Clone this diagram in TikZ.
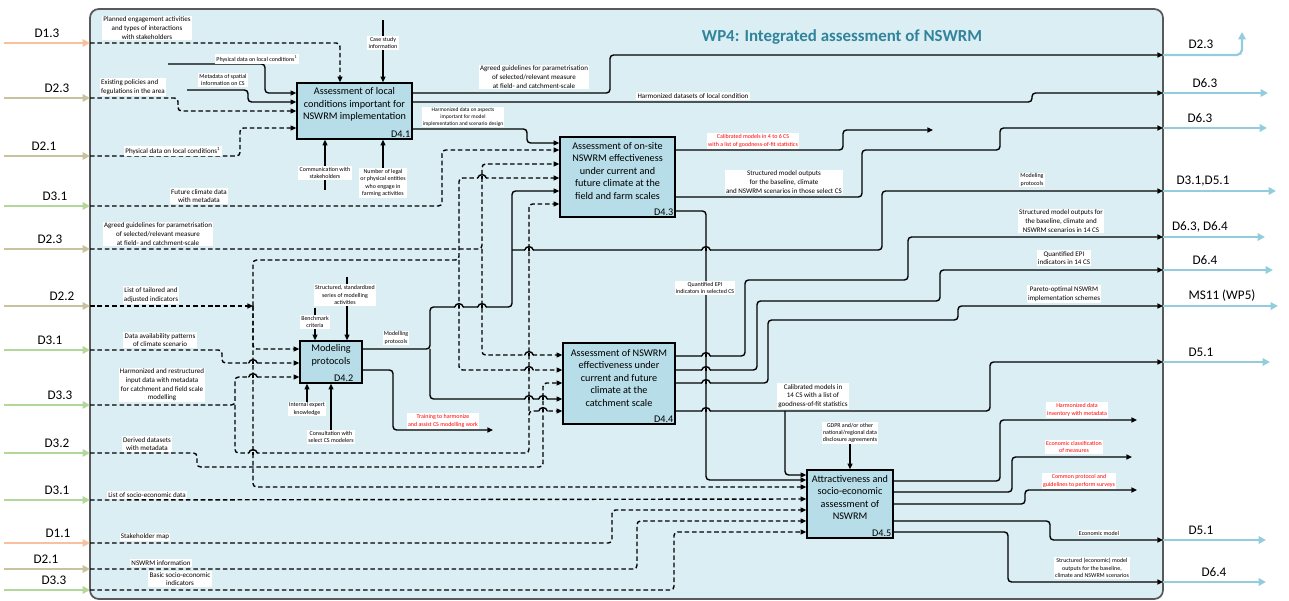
\documentclass[tikz,border=0pt]{standalone}
\usepackage{fontspec}
\setmainfont{Carlito}
\usepackage{tikz}
\usetikzlibrary{arrows.meta,positioning,calc}

\definecolor{panel}{HTML}{DAEEF3}
\definecolor{boxblue}{HTML}{B7DDE8}
\definecolor{framegray}{HTML}{595959}
\definecolor{outblue}{HTML}{93CDDD}
\definecolor{inorange}{HTML}{F8C19D}
\definecolor{intan}{HTML}{C9C29E}
\definecolor{ingreen}{HTML}{B3D79A}
\definecolor{titleblue}{HTML}{31849B}

\newcommand{\wphop}[2]{%
  \fill[panel] (#1-4.2,#2-1.4) rectangle (#1+4.2,#2+1.4);
  \draw[line width=0.8pt] (#1,#2-1.5) -- (#1,#2+1.5);
  \draw[line width=0.8pt,line cap=round] (#1-4.2,#2) .. controls (#1-3.6,#2-4.4) and (#1+3.6,#2-4.4) .. (#1+4.2,#2);}

\begin{document}
\begin{tikzpicture}[x=0.02cm,y=-0.02cm,
  wpbox/.style={draw=black,line width=0.9pt,fill=boxblue,inner sep=0pt},
  boxtxt/.style={align=center,inner sep=0pt,font=\fontsize{5.8}{7.1}\selectfont},
  dtag/.style={inner sep=1.2pt,font=\fontsize{5.8}{7}\selectfont},
  note/.style={fill=white,align=center,inner sep=0.7pt,font=\fontsize{4}{4.9}\selectfont},
  snote/.style={note,font=\fontsize{3.4}{4.1}\selectfont},
  rnote/.style={note,text=red,font=\fontsize{3.4}{4.3}\selectfont},
  dname/.style={inner sep=0pt,font=\fontsize{7.5}{9}\selectfont},
  feed/.style={draw=#1,line width=1.3pt,-{Triangle[length=4.2pt,width=4.2pt]}},
  outarrow/.style={draw=outblue,line width=1.3pt,-{Triangle[length=4.2pt,width=4.2pt]}},
  link/.style={draw=black,line width=0.8pt,rounded corners=2pt,-{Triangle[length=3.2pt,width=2.8pt]}},
  dlink/.style={link,dash pattern=on 2.6pt off 1.6pt}]

\useasboundingbox (0,0) rectangle (1289,601);
\draw[fill=panel,draw=framegray,line width=1pt,rounded corners=5pt] (90,9) rectangle (1163,599);
\node[font=\bfseries\fontsize{9.6}{11}\selectfont,text=titleblue] (ttl) at (842,37) {WP4: Integrated assessment of NSWRM};

\foreach \y/\txt/\col/\lx [count=\i] in {43/D1.3/inorange/47, 98/D2.3/intan/57, 156/D2.1/intan/44, 206/D3.1/ingreen/55, 249/D2.3/intan/50, 306/D2.2/intan/62, 350/D3.1/ingreen/50, 405/D3.3/ingreen/60, 453/D3.2/ingreen/57, 500/D3.1/ingreen/57, 543/D1.1/inorange/58, 569/D2.1/intan/46, 590/D3.3/ingreen/54}{
  \coordinate (src\i) at (4,\y);
  \coordinate (in\i) at (90,\y);
  \draw[feed=\col] (src\i) -- (in\i);
  \node[dname] (dn\i) at (\lx,\y-10) {\txt};
}

\coordinate (o1) at (1163,55);
\coordinate (tip1) at (1242,32);
\draw[outarrow,rounded corners=3pt] (o1) -| (tip1);
\node[dname] (on1) at (1201,44) {D2.3};
\foreach \y/\txt/\lx/\ex [count=\i from 2] in {93/D6.3/1205/1268, 128/D6.3/1200/1267, 191/{D3.1,D5.1}/1203/1276, 237/{D6.3, D6.4}/1200/1265, 270/D6.4/1205/1273, 306/MS11 (WP5)/1222/1278, 362/D5.1/1201/1270, 540/D5.1/1201/1266, 582/D6.4/1214/1266}{
  \coordinate (o\i) at (1163,\y);
  \coordinate (tip\i) at (\ex,\y);
  \draw[outarrow] (o\i) -- (tip\i);
  \node[dname] (on\i) at (\lx,\y-10) {\txt};
}

\node[wpbox,minimum width=2.3cm,minimum height=1.12cm] (d41) at (354.5,111) {};
\node[boxtxt] (d41t) at (354.5,104.5) {Assessment of local\\conditions important for\\NSWRM implementation};
\node[dtag,anchor=south east] (d41n) at (d41.south east) {D4.1};
\node[wpbox,minimum width=2.3cm,minimum height=1.6cm] (d43) at (617.5,177) {};
\node[boxtxt] (d43t) at (617.5,171) {Assessment of on-site\\NSWRM effectiveness\\under current and\\future climate at the\\field and farm scales};
\node[dtag,anchor=south east] (d43n) at (d43.south east) {D4.3};
\node[wpbox,minimum width=1.24cm,minimum height=0.84cm] (d42) at (331,362) {};
\node[boxtxt] (d42t) at (331,355.5) {Modeling\\protocols};
\node[dtag,anchor=south east] (d42n) at ([xshift=-4pt]d42.south east) {D4.2};
\node[wpbox,minimum width=2.24cm,minimum height=1.62cm] (d44) at (619,383.5) {};
\node[boxtxt] (d44t) at (619,378) {Assessment of NSWRM\\effectiveness under\\current and future\\climate at the\\catchment scale};
\node[dtag,anchor=south east] (d44n) at (d44.south east) {D4.4};
\node[wpbox,minimum width=1.72cm,minimum height=1.36cm] (d45) at (850,504) {};
\node[boxtxt] (d45t) at (850,497.5) {Attractiveness and\\socio-economic\\assessment of\\NSWRM};
\node[dtag,anchor=south east] (d45n) at (d45.south east) {D4.5};

\coordinate (s1) at (168,64);
\coordinate (s2) at (187,90);
\coordinate (s3) at (383,20);
\coordinate (s4) at (325,190);
\coordinate (s5) at (383,170);
\coordinate (s6) at (347,277);
\coordinate (s7) at (315,308);
\coordinate (s8) at (307,402);
\coordinate (s9) at (331,430);
\coordinate (s10) at (850,440);
\coordinate (b0) at (253,306);
\coordinate (j1) at (482,249);
\coordinate (j2) at (459,260);
\coordinate (j3) at (235,405);
\coordinate (j4) at (529,411);
\coordinate (j5) at (512,250);
\coordinate (j6) at (430,349);
\coordinate (j7) at (785,411);
\coordinate (t1) at (493,430);
\coordinate (t2) at (933,130);
\coordinate (t3) at (1137,420);
\coordinate (t4) at (1132,457);
\coordinate (t5) at (1137,490);

\draw[dlink] (in1) -| (d41.north -| 340,0);
\draw[link] (s1) -| (265,93) -- (d41.west |- 0,93);
\draw[link] (s2) -| (248,102) -- (d41.west |- 0,102);
\draw[dlink] (in2) -| (178,111) -- (d41.west |- 0,111);
\draw[dlink] (in3) -| (240,128) -- (d41.west |- 0,128);
\draw[link] (s3) -- (d41.north -| 383,0);
\draw[link] (s4) -- (d41.south -| 325,0);
\draw[link] (s5) -- (d41.south -| 383,0);
\draw[link] (d41.east |- 0,93) -| (610,55) -- (o1);
\draw[link] (d41.east |- 0,102) -| (1032,93) -- (o2);
\draw[link] (d41.east |- 0,129) -| (527,143) -- (d43.west |- 0,143);

\draw[dlink] (in4) -| (442,150) -- (d43.west |- 0,150);
\draw[dlink] (in5) -| (482,164) -- (d43.west |- 0,164);
\draw[dlink] (j1) |- (d44.west |- 0,355);
\draw[dlink] (in6) -- (b0);
\draw[dlink] (b0) |- (459,260) |- (d43.west |- 0,178);
\draw[dlink] (j2) |- (d44.west |- 0,370);
\draw[dlink] (b0) |- (d42.west |- 0,349);
\draw[dlink] (b0) |- (d45.west |- 0,487);
\draw[dlink] (in7) -| (222,363) -- (d42.west |- 0,363);
\draw[dlink] (in8) -| (235,377) -- (d42.west |- 0,377);
\draw[dlink] (j3) |- (529,453) |- (d44.west |- 0,411);
\draw[dlink] (j4) |- (d43.west |- 0,204);
\draw[dlink] (in9) -| (197,467) -| (543,383) -- (d44.west |- 0,383);

\draw[link] (s6) -- (d42.north -| 347,0);
\draw[link] (s7) -- (d42.north -| 315,0);
\draw[link] (s8) -- (d42.south -| 307,0);
\draw[link] (s9) -- (d42.south -| 331,0);
\draw[link] (d42.east |- 0,349) -| (430,307) -| (512,191) -- (d43.west |- 0,191);
\draw[link] (j5) -| (882,191) -- (o4);
\draw[link] (j6) |- (d44.west |- 0,399);
\draw[link] (d42.east |- 0,370) -| (393,430) -- (t1);

\draw[link] (d43.east |- 0,150) -| (843,130) -- (t2);
\draw[link] (d43.east |- 0,197) -| (862,150) -| (1000,128) -- (o3);
\draw[link] (d43.east |- 0,211) -| (706,480) -- (d45.west |- 0,480);

\draw[link] (d44.east |- 0,356) -| (745,280) -| (908,237) -- (o5);
\draw[link] (d44.east |- 0,370) -| (757,301) -| (940,270) -- (o6);
\draw[link] (d44.east |- 0,383) -| (768,320) -| (958,306) -- (o7);
\draw[link] (d44.east |- 0,411) -| (990,362) -- (o8);
\draw[link] (j7) |- (d45.west |- 0,475);

\draw[link] (s10) -- (d45.north -| 850,0);
\draw[dlink] (in10) -- (d45.west |- 0,499);
\draw[dlink] (in11) -| (612,510) -- (d45.west |- 0,510);
\draw[dlink] (in12) -| (637,521) -- (d45.west |- 0,521);
\draw[dlink] (in13) -| (674,532) -- (d45.west |- 0,532);
\draw[link] (d45.east |- 0,481) -| (1000,420) -- (t3);
\draw[link] (d45.east |- 0,492) -| (1012,457) -- (t4);
\draw[link] (d45.east |- 0,504) -| (1025,490) -- (t5);
\draw[link] (d45.east |- 0,521) -| (1050,540) -- (o9);
\draw[link] (d45.east |- 0,532) -| (1008,582) -- (o10);

% bridges where a line jumps over another
\wphop{482}{178}
\wphop{459}{307} \wphop{482}{307}
\wphop{529}{250} \wphop{706}{250}
\wphop{529}{399} \wphop{543}{399}
\wphop{529}{355} \wphop{529}{370}
\wphop{543}{411}
\wphop{253}{363} \wphop{253}{377} \wphop{253}{453}
\wphop{706}{356} \wphop{706}{370} \wphop{706}{383} \wphop{706}{411}

\node[note] (nt1) at (147,28) {Planned engagement activities\\and types of interactions\\with stakeholders};
\node[snote] (nt2) at (257,59) {Physical data on local conditions\textsuperscript{1}};
\node[snote] (nt3) at (223,80) {Metadata of spatial\\information on CS};
\node[note,align=left] (nt4) at (133,87) {Existing policies and\\fegulations in the area};
\node[note] (nt5) at (173,151) {Physical data on local conditions\textsuperscript{1}};
\node[note] (nt6) at (199,196) {Future climate data\\with metadata};
\node[note] (nt7) at (158,234) {Agreed guidelines for parametrisation\\of selected/relevant measure\\at field- and catchment-scale};
\node[note] (nt8) at (151,295) {List of tailored and\\adjusted indicators};
\node[note] (nt9) at (160,340) {Data availability patterns\\of climate scenario};
\node[note] (nt10) at (162,385) {Harmonized and restructured\\input data with metadata\\for catchment and field scale\\modelling};
\node[note] (nt11) at (147,444) {Derived datasets\\with metadata};
\node[note] (nt12) at (147,495) {List of socio-economic data};
\node[note] (nt13) at (145,537) {Stakeholder map};
\node[note] (nt14) at (161,563) {NSWRM information};
\node[note] (nt15) at (180,579) {Basic socio-economic\\indicators};
\node[snote] (nt16) at (383,43) {Case study\\information};
\node[snote] (nt17) at (325,173) {Communication with\\stakeholders};
\node[snote] (nt18) at (383,183) {Number of legal\\or physical entities\\who engage in\\farming activities};
\node[note] (nt19) at (534,77) {Agreed guidelines for parametrisation\\of selected/relevant measure\\at field- and catchment-scale};
\node[note] (nt20) at (693,96) {Harmonized datasets of local condition};
\node[snote,font=\fontsize{3.1}{3.8}\selectfont] (nt21) at (463,117) {Harmonized data on aspects\\important for model\\implementation and scenario design};
\node[rnote] (nt22) at (753,141) {Calibrated models in 4 to 6 CS\\with a list of goodness-of-fit statistics};
\node[note] (nt23) at (784,182) {Structured model outputs\\for the baseline, climate\\and NSWRM scenarios in those select CS};
\node[snote] (nt24) at (1032,180) {Modeling\\protocols};
\node[note] (nt25) at (1061,221) {Structured model outputs for\\the baseline, climate and\\NSWRM scenarios in 14 CS};
\node[note] (nt26) at (1064,258) {Quantified EPI\\indicators in 14 CS};
\node[note] (nt27) at (1064,294) {Pareto-optimal NSWRM\\implementation schemes};
\node[snote] (nt28) at (705,288) {Quantified EPI\\indicators in selected CS};
\node[snote] (nt29) at (345,295) {Structured, standardized\\series of modelling\\activities};
\node[snote] (nt30) at (315,322) {Benchmark\\criteria};
\node[snote] (nt31) at (396,338) {Modelling\\protocols};
\node[snote] (nt32) at (307,409) {Internal expert\\knowledge};
\node[snote] (nt33) at (331,437) {Consultation with\\select CS modelers};
\node[rnote] (nt34) at (443,421) {Training to harmonize\\and assist CS modelling work};
\node[note] (nt35) at (813,396) {Calibrated models in\\14 CS with a list of\\goodness-of-fit statistics};
\node[snote] (nt36) at (850,433) {GDPR and/or other\\national/regional data\\disclosure agreements};
\node[rnote] (nt37) at (1077,410) {Harmonized data\\inventory with metadata};
\node[rnote] (nt38) at (1074,447) {Economic classification\\of measures};
\node[rnote] (nt39) at (1079,481) {Common protocol and\\guidelines to perform surveys};
\node[snote] (nt40) at (1099,533) {Economic model};
\node[snote] (nt41) at (1092,568) {Structured (economic) model\\outputs for the baseline,\\climate and NSWRM scenarios};
\end{tikzpicture}
\end{document}
